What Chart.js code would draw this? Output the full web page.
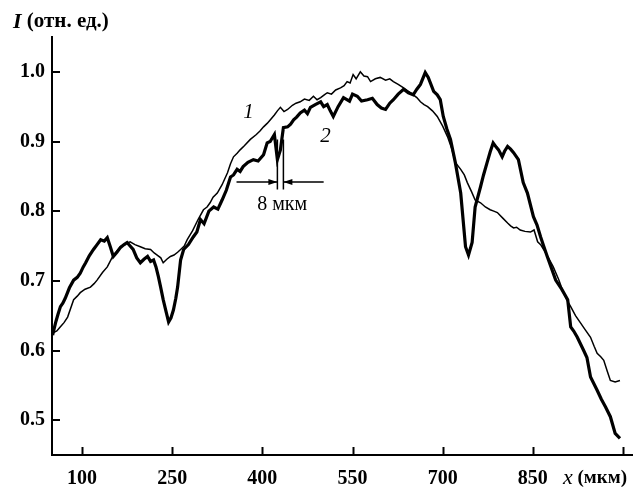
<!DOCTYPE html>
<html>
<head>
<meta charset="utf-8">
<script src="https://cdn.jsdelivr.net/npm/chart.js@4.4.1/dist/chart.umd.min.js"></script>
<style>
html,body{margin:0;padding:0;background:#fff;}
#wrap{width:640px;height:487px;position:relative;}
</style>
</head>
<body>
<div id="wrap"><canvas id="c" width="640" height="487"></canvas></div>
<script>
// Curve 1 (thin)
const curve1X = [51,58,64,70,76,86,92,97,105,114,120,125,134,142,148,152,158,164,172,180,188,197,205,214,220,225,231,235,241,247,253,259,264,270,275,284,293,302,308,313,318,325,333,342,347,352,358,363,370,380,390,396,402,408,413,420,425,430,436,442,450,456,463,470,478,485,491,497,503,508,515,522,530,536,541,546,551,556,563,569,575,580,588,596,605,612,618,626,635,643,651,657,663,669,675,683,691,700,708,715,721,730,736,741,748,754,763,771,779,785,791,800,808,813,818,823,829,837,846,852,858,863,868,876,884,893,901,907,913,921,929,937,946,952,957,963,968,974,979,987,995];
const curve1Y = [0.625,0.628,0.634,0.640,0.648,0.673,0.678,0.683,0.688,0.691,0.696,0.701,0.712,0.720,0.730,0.737,0.743,0.749,0.753,0.756,0.752,0.749,0.746,0.745,0.740,0.737,0.733,0.726,0.731,0.735,0.737,0.741,0.745,0.750,0.759,0.772,0.788,0.802,0.806,0.812,0.820,0.826,0.838,0.855,0.868,0.878,0.883,0.888,0.894,0.903,0.910,0.915,0.921,0.926,0.931,0.938,0.944,0.949,0.943,0.946,0.952,0.955,0.957,0.961,0.959,0.965,0.960,0.963,0.967,0.970,0.968,0.974,0.977,0.980,0.986,0.984,0.996,0.990,1.000,0.994,0.993,0.986,0.990,0.992,0.988,0.990,0.986,0.982,0.977,0.972,0.967,0.963,0.957,0.953,0.950,0.944,0.936,0.922,0.907,0.890,0.870,0.860,0.852,0.841,0.828,0.816,0.812,0.806,0.802,0.800,0.798,0.790,0.783,0.779,0.776,0.777,0.773,0.771,0.770,0.773,0.756,0.752,0.745,0.733,0.720,0.702,0.683,0.672,0.663,0.650,0.640,0.630,0.619,0.606,0.596,0.591,0.586,0.570,0.557,0.555,0.557];
// Curve 2 (thick)
const curve2X = [51,56,60,64,68,72,79,86,92,97,102,106,112,119,125,131,137,142,147,152,158,164,170,175,180,185,191,197,203,209,214,219,223,227,231,235,240,244,248,252,256,259,264,269,277,285,291,297,303,311,319,326,333,340,347,352,358,363,368,376,385,393,402,408,413,420,425,430,435,442,447,452,457,463,470,475,480,488,497,502,508,513,518,526,535,545,550,558,565,575,583,591,598,605,612,618,626,635,643,651,657,663,671,676,685,691,696,701,707,713,721,730,738,743,749,754,763,768,774,779,784,789,793,799,803,808,813,818,826,834,841,851,857,863,868,874,881,888,898,908,913,918,924,934,940,946,957,964,971,979,987,995];
const curve2Y = [0.622,0.640,0.652,0.663,0.668,0.675,0.690,0.701,0.705,0.711,0.720,0.726,0.736,0.745,0.752,0.759,0.757,0.762,0.749,0.735,0.741,0.748,0.752,0.755,0.750,0.745,0.733,0.726,0.731,0.735,0.728,0.730,0.720,0.706,0.690,0.673,0.655,0.641,0.647,0.658,0.675,0.691,0.730,0.745,0.752,0.763,0.770,0.788,0.782,0.800,0.806,0.803,0.816,0.830,0.849,0.852,0.860,0.857,0.864,0.870,0.874,0.872,0.881,0.898,0.900,0.910,0.874,0.888,0.920,0.921,0.925,0.931,0.935,0.941,0.945,0.940,0.949,0.953,0.957,0.950,0.953,0.944,0.936,0.950,0.963,0.958,0.968,0.965,0.958,0.960,0.962,0.953,0.948,0.946,0.955,0.960,0.968,0.975,0.970,0.967,0.975,0.982,0.999,0.992,0.972,0.967,0.960,0.936,0.918,0.903,0.870,0.826,0.749,0.737,0.755,0.806,0.835,0.852,0.870,0.885,0.898,0.892,0.888,0.878,0.886,0.893,0.889,0.884,0.874,0.841,0.826,0.792,0.780,0.763,0.750,0.735,0.718,0.701,0.688,0.673,0.634,0.628,0.619,0.601,0.590,0.562,0.543,0.530,0.519,0.505,0.481,0.474];
const xTicks = [100,250,400,550,700,850,1000];
const yTicks = [0.5,0.6,0.7,0.8,0.9,1.0];

const FONT = '"Liberation Serif", "DejaVu Serif", serif';

const toPts = (xs, ys) => xs.map((x, i) => ({x: x, y: ys[i]}));

const overlay = {
  id: 'overlay',
  afterDraw(chart) {
    const ctx = chart.ctx;
    const xs = chart.scales.x, ys = chart.scales.y;
    const ca = chart.chartArea;
    ctx.save();
    ctx.strokeStyle = '#000';
    ctx.fillStyle = '#000';
    // inward tick marks
    ctx.lineWidth = 2;
    xTicks.forEach(v => {
      const px = Math.round(xs.getPixelForValue(v)) + 0.5;
      ctx.beginPath(); ctx.moveTo(px, ca.bottom); ctx.lineTo(px, ca.bottom - 8); ctx.stroke();
    });
    yTicks.forEach(v => {
      const py = Math.round(ys.getPixelForValue(v));
      ctx.beginPath(); ctx.moveTo(ca.left, py); ctx.lineTo(ca.left + 8, py); ctx.stroke();
    });
    // y title
    ctx.textBaseline = 'middle';
    ctx.textAlign = 'left';
    ctx.font = 'italic bold 22px ' + FONT;
    ctx.fillText('I', 13, 22);
    let w = ctx.measureText('I').width;
    ctx.font = 'bold 21px ' + FONT;
    ctx.fillText(' (отн. ед.)', 13 + w, 22);
    // x title
    const ly = 478;
    ctx.font = 'italic 22px ' + FONT;
    ctx.fillText('x', 563, ly);
    w = ctx.measureText('x').width;
    ctx.font = 'bold 19px ' + FONT;
    ctx.fillText(' (мкм)', 563 + w, ly);
    // curve labels
    ctx.font = 'italic 21px ' + FONT;
    ctx.textAlign = 'center';
    ctx.fillText('1', xs.getPixelForValue(377), ys.getPixelForValue(0.941));
    ctx.fillText('2', xs.getPixelForValue(505), ys.getPixelForValue(0.907));
    // 8 мкм annotation
    const xa = xs.getPixelForValue(425), xb = xs.getPixelForValue(435);
    const yt = ys.getPixelForValue(0.903), yb = ys.getPixelForValue(0.831);
    const yh = ys.getPixelForValue(0.842);
    ctx.lineWidth = 1.5;
    ctx.beginPath();
    ctx.moveTo(xa, yt); ctx.lineTo(xa, yb);
    ctx.moveTo(xb, yt); ctx.lineTo(xb, yb);
    ctx.moveTo(xs.getPixelForValue(357), yh); ctx.lineTo(xa, yh);
    ctx.moveTo(xs.getPixelForValue(502), yh); ctx.lineTo(xb, yh);
    ctx.stroke();
    // arrow heads
    ctx.beginPath();
    ctx.moveTo(xa, yh); ctx.lineTo(xa - 9, yh - 3); ctx.lineTo(xa - 9, yh + 3); ctx.closePath(); ctx.fill();
    ctx.beginPath();
    ctx.moveTo(xb, yh); ctx.lineTo(xb + 9, yh - 3); ctx.lineTo(xb + 9, yh + 3); ctx.closePath(); ctx.fill();
    ctx.font = '20px ' + FONT;
    ctx.textAlign = 'center';
    ctx.fillText('8 мкм', xs.getPixelForValue(433), ys.getPixelForValue(0.809));
    ctx.restore();
  }
};

new Chart(document.getElementById('c'), {
  type: 'line',
  data: {
    datasets: [
      { data: toPts(curve1X, curve1Y), borderColor: '#000', borderWidth: 1.5, pointRadius: 0, tension: 0, fill: false },
      { data: toPts(curve2X, curve2Y), borderColor: '#000', borderWidth: 3.2, pointRadius: 0, tension: 0, fill: false }
    ]
  },
  options: {
    responsive: false,
    animation: false,
    events: [],
    layout: { padding: { left: 0, top: 37, right: 8, bottom: 0 } },
    plugins: { legend: { display: false }, tooltip: { enabled: false }, title: { display: false } },
    scales: {
      x: {
        type: 'linear', min: 50, max: 1015,
        afterBuildTicks: s => { s.ticks = xTicks.map(v => ({value: v})); },
        afterFit: s => { s.height = 32; },
        grid: { display: false, drawTicks: false },
        border: { display: true, color: '#000', width: 2 },
        ticks: {
          padding: 12, color: '#000', maxRotation: 0, autoSkip: false,
          font: { family: FONT, size: 20, weight: 'bold' },
          callback: v => (v === 1000 ? '' : String(v))
        }
      },
      y: {
        type: 'linear', min: 0.45, max: 1.05,
        afterBuildTicks: s => { s.ticks = yTicks.map(v => ({value: v})); },
        afterFit: s => { s.width = 52; },
        grid: { display: false, drawTicks: false },
        border: { display: true, color: '#000', width: 2 },
        ticks: {
          padding: 7, color: '#000', autoSkip: false,
          font: { family: FONT, size: 20, weight: 'bold' },
          callback: v => v.toFixed(1)
        }
      }
    }
  },
  plugins: [overlay]
});
</script>
</body>
</html>
